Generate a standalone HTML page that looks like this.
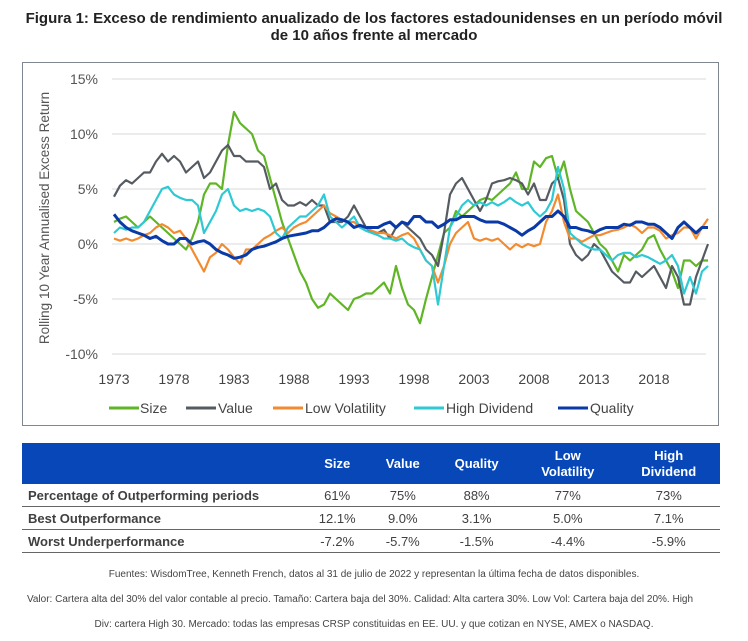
<!DOCTYPE html>
<html><head><meta charset="utf-8"><style>
body{margin:0;background:#fff;font-family:"Liberation Sans",sans-serif;}
#wrap{position:relative;width:748px;height:641px;overflow:hidden;}
.title{position:absolute;left:0;width:748px;text-align:center;font-weight:bold;font-size:15px;color:#222;}
#frame{position:absolute;left:22px;top:62px;width:697px;height:364px;border:1px solid #7f8790;box-sizing:border-box;}
table{position:absolute;left:22px;top:443px;width:698px;border-collapse:collapse;font-size:13px;color:#404040;}
th{background:#0747b8;color:#fff;font-weight:bold;height:39px;text-align:center;line-height:16px;}
td{height:22px;text-align:center;border-bottom:1px solid #666;padding:0;}
td.l{text-align:left;font-weight:bold;padding-left:6px;}
.foot{position:absolute;left:0;width:748px;text-align:center;font-size:10px;color:#444;white-space:nowrap;}
</style></head><body>
<div id="wrap">
<div class="title" style="top:10px">Figura 1: Exceso de rendimiento anualizado de los factores estadounidenses en un período móvil<br>de 10 años frente al mercado</div>
<div id="frame"></div>
<svg id="chart" width="748" height="440" style="position:absolute;left:0;top:0"></svg>
<table>
<tr><th style="width:280px"></th><th>Size</th><th>Value</th><th>Quality</th><th>Low<br>Volatility</th><th>High<br>Dividend</th></tr>
<tr><td class="l">Percentage of Outperforming periods</td><td>61%</td><td>75%</td><td>88%</td><td>77%</td><td>73%</td></tr>
<tr><td class="l">Best Outperformance</td><td>12.1%</td><td>9.0%</td><td>3.1%</td><td>5.0%</td><td>7.1%</td></tr>
<tr><td class="l">Worst Underperformance</td><td>-7.2%</td><td>-5.7%</td><td>-1.5%</td><td>-4.4%</td><td>-5.9%</td></tr>
</table>
<div class="foot" style="top:569px">Fuentes: WisdomTree, Kenneth French, datos al 31 de julio de 2022 y representan la última fecha de datos disponibles.</div>
<div class="foot" style="top:594px;left:-14px">Valor: Cartera alta del 30% del valor contable al precio. Tamaño: Cartera baja del 30%. Calidad: Alta cartera 30%. Low Vol: Cartera baja del 20%. High</div>
<div class="foot" style="top:619px">Div: cartera High 30. Mercado: todas las empresas CRSP constituidas en EE. UU. y que cotizan en NYSE, AMEX o NASDAQ.</div>
</div>
<script>
const startYear = 1973, stepYears = 0.5;
const yTicks = [15,10,5,0,-5,-10];
const xTicks = [1973,1978,1983,1988,1993,1998,2003,2008,2013,2018];
const size = [2,2.3,2.5,2,1.5,2,2.5,2,1.5,1,0.5,0,-0.5,0.5,2,4.5,5.5,5.5,5,9,12,11,10.5,10,8.5,8,6,4,2,0.5,-1,-2.5,-3.5,-5,-5.8,-5.5,-4.5,-5,-5.5,-6,-5,-4.8,-4.5,-4.5,-4,-3.5,-4.5,-2,-4,-5.5,-6,-7.2,-5,-3,-1,1,1.5,3,2.5,3,3.5,4,4.2,4,4.5,5,5.5,6.5,5,5,7.5,7,7.8,8,6,7.5,5,3,2.5,2,1,0,-0.5,-1.5,-2.5,-1,-1.5,-1,-0.5,0.5,0.8,-0.5,-1.5,-2.5,-4,-1.5,-1.5,-2,-1.5,-1.5];
const value = [4.3,5.3,5.8,5.5,6,6.5,6.5,7.5,8.2,7.5,8,7.5,6.5,7,7.5,6,6.5,7.5,8.5,9,8,8,7.5,7.5,7.5,7,5,5.5,4,3.5,3.5,3.8,3.5,4,3.5,3.5,2,2,2,2.5,3.5,2.5,1.5,1,1,1.3,0.5,1.5,2,1.5,1,0.5,-0.5,-1,-2,1,4.5,5.5,6,5,4,3,4,5.5,5.7,5.8,6,5.8,5.5,4.5,5.5,4,4,5.5,6,4,0,-1,-1.5,-1,0,-0.5,-1.5,-2.5,-3,-3.5,-3.5,-2.5,-3,-2.5,-2,-3,-4,-2,-3,-5.5,-5.5,-3,-1.5,0];
const lowVol = [0.5,0.3,0.5,0.3,0.5,0.8,1,1.5,1.8,1.5,1,1.2,0.5,-0.5,-1.5,-2.5,-1.2,-0.8,0,-0.5,-1.2,-1.8,-0.5,-0.5,0,0.5,0.8,1.2,1.5,1,1.5,1.8,2,2.5,3,3.5,2.8,2.5,2.2,2,2,1.5,1.5,1.2,1,1,0.8,0.5,0.8,1,0.5,-0.5,-1.5,-2,-3.5,-2,0,1,1.5,2,0.5,0.3,0.5,0.3,0.5,0,-0.5,0,-0.3,0,-0.2,0,2,3,4.5,2,0.5,0.5,0.2,0.5,0.8,0.8,1,1.2,1.3,1.5,1.8,1.5,1,1.5,1.5,1.2,0.5,0.8,1,1.5,1.5,0.5,1.5,2.3];
const highDiv = [1,1.5,1.3,1.5,1.5,2,3,4,5,5.2,4.5,4.2,4,4,3.5,1,2,3,4.5,5,3.5,3,3.2,3,3.2,3,2.5,1,0.5,1.5,2,2.5,2.5,3,3.5,4.5,2.5,2,1.5,2,2.5,1.5,1.2,1,0.8,0.5,0.5,0.3,0.5,0,-0.3,-0.5,-1.5,-2,-5.5,-2,1.5,2.5,3.5,4,3.5,3.8,3.5,3.8,3.5,3.8,4.2,3.8,3.5,3.8,3,2.5,3,4,7,5,1,0.5,0,-0.3,-0.5,-0.5,-1,-1.5,-1,-0.8,-0.8,-1.2,-1,-1.2,-1.5,-1.8,-1.5,-1,-2,-4.5,-3,-4.5,-2.5,-2];
const quality = [2.7,2,1.5,1.2,1,0.8,0.5,0.7,0.3,0,0,0.5,0.5,0,0.2,0.3,0,-0.5,-0.8,-1,-1.3,-1.2,-1,-0.5,-0.3,-0.2,0,0.2,0.5,0.7,0.8,0.9,1,1.2,1.2,1.5,2,2.3,2.2,2,1.5,1.7,1.5,1.5,1.5,1.8,2,1.5,2,1.8,2.5,2.5,2,2,1.5,1.8,2.2,2.2,2.5,2.5,2.5,2.2,2,2,2,1.8,1.5,1.2,0.8,1.2,1.5,2,2.5,2.5,3,2.5,1.5,1.5,1.3,1.2,1,1.3,1.5,1.5,1.5,1.8,1.7,2,2,1.8,1.8,1.5,1,0.5,1.5,2,1.5,1,1.5,1.5];
const seriesNames = ["Size","Value","Low Volatility","High Dividend","Quality"];
const seriesData = [size,value,lowVol,highDiv,quality];
const colors = ["#5fb526","#555b61","#f28b30","#2ec9d3","#0a3aa8"];
const widths = [2.2,2.2,2.2,2.2,3];

const NS="http://www.w3.org/2000/svg";
const svg=document.getElementById('chart');
function X(yr){return 114+(yr-1973)*12;}
function Y(v){return 244-v*11;}
function mk(t,a){const e=document.createElementNS(NS,t);for(const k in a)e.setAttribute(k,a[k]);svg.appendChild(e);return e;}
yTicks.forEach(v=>{
  const g=mk('line',{x1:112,x2:706,y1:Y(v),y2:Y(v),stroke:'#d9d9d9','stroke-width':1});
  
  
  const t=mk('text',{x:98,y:Y(v)+5,'text-anchor':'end','font-size':14,fill:'#555','font-family':'Liberation Sans, sans-serif'});
  t.textContent=v+'%';
  
  
});
xTicks.forEach(yr=>{
  const t=mk('text',{x:X(yr),y:384,'text-anchor':'middle','font-size':14,fill:'#444','font-family':'Liberation Sans, sans-serif'});
  t.textContent=yr;
  
  
});
const yt=mk('text',{x:0,y:0,transform:'translate(49,218) rotate(-90)','text-anchor':'middle','font-size':13.5,fill:'#555','font-family':'Liberation Sans, sans-serif'});
yt.textContent='Rolling 10 Year Annualised Excess Return';


seriesData.forEach((arr,i)=>{
  const pts=arr.map((v,j)=>X(startYear+j*stepYears).toFixed(1)+','+Y(v).toFixed(1)).join(' ');
  const p=mk('polyline',{points:pts,fill:'none',stroke:colors[i],'stroke-width':widths[i],'stroke-linejoin':'round'});
  
  
});
const legX=[109,186,273,414,558], legTX=[140,218,305,446,590];
seriesNames.forEach((n,i)=>{
  const l=mk('line',{x1:legX[i],x2:legX[i]+30,y1:408,y2:408,stroke:colors[i],'stroke-width':3});
  
  
  const t=mk('text',{x:legTX[i],y:413,'font-size':14,fill:'#444','font-family':'Liberation Sans, sans-serif'});
  t.textContent=n;
  
  
});
</script>
</body></html>
